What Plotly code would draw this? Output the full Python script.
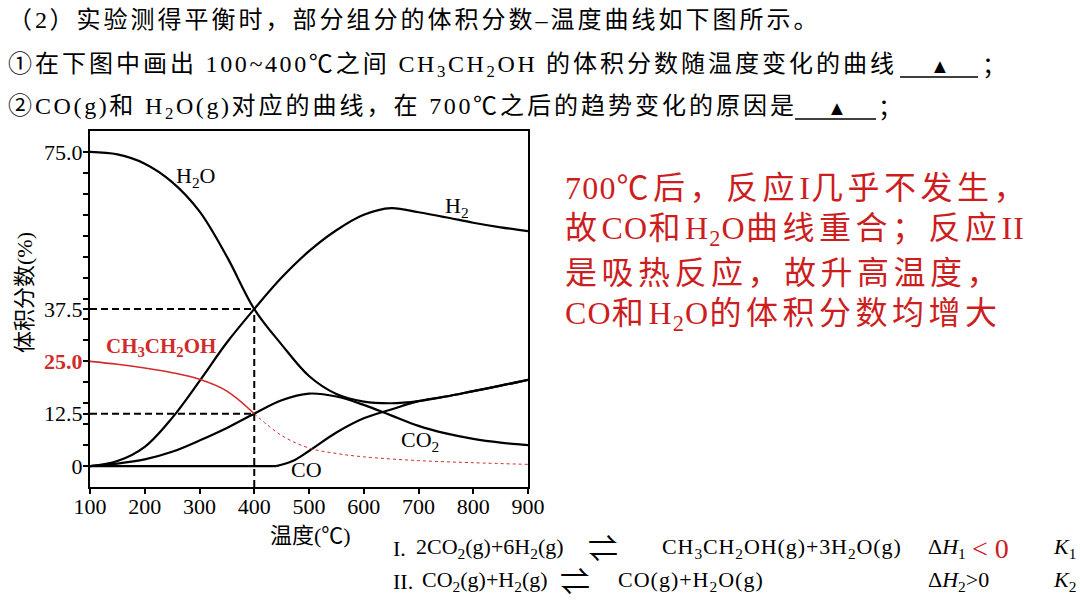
import re
import plotly.graph_objects as go

# ---------------- data ----------------
temps = [100, 150, 200, 250, 300, 350, 400, 450, 500, 550, 600, 650, 700, 750, 800, 850, 900]
h2o = [75.0, 74.4, 72.2, 67.8, 60.8, 50.0, 37.5, 29.0, 21.5, 17.2, 15.4, 15.0, 15.5, 16.6, 17.9, 19.2, 20.6]
h2 = [0.0, 1.2, 4.6, 11.5, 20.3, 29.5, 37.5, 45.0, 51.3, 56.3, 60.0, 61.6, 60.6, 59.4, 58.1, 57.0, 56.1]
co2 = [0.0, 0.6, 1.6, 3.4, 6.1, 9.1, 12.5, 15.7, 17.3, 16.6, 14.6, 12.1, 9.6, 7.8, 6.5, 5.6, 5.0]

co_temps = [100, 200, 300, 400, 440, 470, 500, 550, 600, 650, 700, 750, 800, 850, 900]
co = [0.0, 0.0, 0.0, 0.0, 0.0, 1.2, 3.6, 8.0, 11.4, 13.5, 15.5, 16.6, 17.9, 19.2, 20.6]
co_flat_n = 5  # CO stays at 0 up to 440 ℃

etoh_temps = [100, 150, 200, 250, 300, 350, 400]
etoh = [25.0, 24.3, 23.4, 22.3, 20.7, 17.9, 12.5]
etoh_ext_temps = [400, 450, 500, 550, 600, 700, 800, 900]
etoh_ext = [12.5, 7.3, 4.3, 3.0, 2.2, 1.3, 0.8, 0.4]

ref_T = 400
ref_levels = [37.5, 12.5]

x_ticks = [100, 200, 300, 400, 500, 600, 700, 800, 900]
y_label_vals = [0, 12.5, 25, 37.5, 75]
y_label_text = ["0", "12.5", "<span style='color:#d22b2b'><b>25.0</b></span>", "37.5", "75.0"]
y_minor = [5, 10, 15, 20, 30, 35, 40, 45, 50, 55, 60, 65, 70]

RED = "#d22b2b"
SERIF = "Liberation Serif, Noto Sans CJK SC"

# plot area in pixels (layout only)
L, R, T, B = 90, 528, 131, 487
W, H = 1080, 608


def P(xp, yp):
    return (xp - L) / (R - L), (B - yp) / (B - T)


fig = go.Figure()
blk = dict(color="black", width=2.2)
fig.add_trace(go.Scatter(x=temps, y=h2o, mode="lines", line=dict(shape="spline", **blk)))
fig.add_trace(go.Scatter(x=temps, y=h2, mode="lines", line=dict(shape="spline", **blk)))
fig.add_trace(go.Scatter(x=temps, y=co2, mode="lines", line=dict(shape="spline", **blk)))
fig.add_trace(go.Scatter(x=co_temps[:co_flat_n], y=co[:co_flat_n], mode="lines", line=dict(shape="linear", **blk)))
fig.add_trace(go.Scatter(x=co_temps[co_flat_n - 1:], y=co[co_flat_n - 1:], mode="lines",
                         line=dict(shape="spline", **blk)))
fig.add_trace(go.Scatter(x=etoh_temps, y=etoh, mode="lines", line=dict(shape="spline", color=RED, width=1.6)))
fig.add_trace(go.Scatter(x=etoh_ext_temps, y=etoh_ext, mode="lines",
                         line=dict(shape="spline", color=RED, width=1, dash="3px,3px")))
# dashed reference lines
dash = dict(color="black", width=2, dash="7px,4px")
for lv in ref_levels:
    fig.add_trace(go.Scatter(x=[100, ref_T], y=[lv, lv], mode="lines", line=dash))
fig.add_trace(go.Scatter(x=[ref_T, ref_T], y=[-5, ref_levels[0]], mode="lines", line=dash))

fig.update_layout(
    width=W, height=H, showlegend=False,
    margin=dict(l=L, r=W - R, t=T, b=H - B, pad=0),
    paper_bgcolor="white", plot_bgcolor="white",
    font=dict(family=SERIF, color="black"),
)
fig.update_xaxes(range=[100, 900], tickvals=x_ticks, ticktext=[str(v) for v in x_ticks],
                 ticks="outside", ticklen=5, tickwidth=1.5, tickcolor="black", ticklabelstandoff=-6,
                 showline=True, linewidth=2, linecolor="black", mirror=True,
                 showgrid=False, zeroline=False, tickfont=dict(family=SERIF, size=22, color="black"))
fig.update_yaxes(range=[-5, 80], tickvals=y_label_vals, ticktext=y_label_text,
                 ticks="outside", ticklen=5, tickwidth=1.5, tickcolor="black", ticklabelstandoff=-4,
                 minor=dict(tickvals=y_minor, ticks="outside", ticklen=5, tickwidth=1.5, tickcolor="black"),
                 showline=True, linewidth=2, linecolor="black", mirror=True,
                 showgrid=False, zeroline=False, tickfont=dict(family=SERIF, size=22, color="black"))

# curve labels (data coordinates)
curve_labels = [
    ("H<sub>2</sub>O", 293, 69.0, "black", 22),
    ("H<sub>2</sub>", 770, 61.8, "black", 22),
    ("<b>CH<sub>3</sub>CH<sub>2</sub>OH</b>", 230, 28.4, RED, 21),
    ("CO<sub>2</sub>", 702, 6.0, "black", 22),
    ("CO", 496, -0.8, "black", 22),
]
for txt, x, y, c, s in curve_labels:
    fig.add_annotation(x=x, y=y, text=txt, showarrow=False, font=dict(family=SERIF, size=s, color=c))


def spaced(s, cjk_ls, latin_ls):
    """wrap runs of CJK / Latin characters in letter-spacing spans (tags left untouched)"""
    out = []
    for tok in re.split(r"(<[^>]+>|&[a-z]+;)", s):
        if not tok:
            continue
        if tok.startswith("<") or tok.startswith("&"):
            out.append(tok)
            continue
        for run in re.findall(r"[\u2000-\uffff]+|[^\u2000-\uffff]+", tok):
            ls = cjk_ls if ord(run[0]) >= 0x2000 else latin_ls
            out.append(f"<span style='letter-spacing:{ls}px'>{run}</span>" if ls else run)
    return "".join(out)


def text(xp, yp, s, size=23, color="black", anchor="left", angle=0, ls=None):
    x, y = P(xp, yp)
    if ls:
        s = spaced(s, *ls)
    fig.add_annotation(x=x, y=y, xref="paper", yref="paper", text=s, showarrow=False, textangle=angle,
                       xanchor=anchor, yanchor="middle", font=dict(family=SERIF, size=size, color=color))


def hline(x0, x1, yp):
    a, b = P(x0, yp)
    c, _ = P(x1, yp)
    fig.add_shape(type="line", xref="paper", yref="paper", x0=a, x1=c, y0=b, y1=b,
                  line=dict(color="black", width=1.5))


# axis titles
text(310, 535, "温度(℃)", 22, anchor="center")
text(24, 293, "体积分数(%)", 22, anchor="center", angle=-90)

# question text
Q = (3.0, 2.6)
text(6, 20, "（2）实验测得平衡时，部分组分的体积分数–温度曲线如下图所示。", 24, ls=Q)
text(6, 66, "①在下图中画出 100~400℃之间 CH<sub>3</sub>CH<sub>2</sub>OH 的体积分数随温度变化的曲线", 24, ls=Q)
hline(900, 978, 77)
text(940, 66, "▲", 20, anchor="center")
text(980, 66, "；", 24)
text(6, 108, "②CO(g)和 H<sub>2</sub>O(g)对应的曲线，在 700℃之后的趋势变化的原因是", 24, ls=Q)
hline(795, 876, 119)
text(837, 108, "▲", 20, anchor="center")
text(876, 108, "；", 24)

# answer text (red)
answer = [
    "700℃后，反应I几乎不发生，",
    "故CO和H<sub>2</sub>O曲线重合；反应II",
    "是吸热反应，故升高温度，",
    "CO和H<sub>2</sub>O的体积分数均增大",
]
for i, s in enumerate(answer):
    text(563, 188 + i * 42.5, s, 32, color="#cc1e1e", ls=(4.5, 1.2))

# reactions
EQ = 22
text(391, 548, "I.", EQ)
text(414, 548, "2CO<sub>2</sub>(g)+6H<sub>2</sub>(g)", EQ)
text(603, 548, "⇌", 30, anchor="center")
text(660, 548, "CH<sub>3</sub>CH<sub>2</sub>OH(g)+3H<sub>2</sub>O(g)", EQ, ls=(0, 0.9))
text(926, 548, "Δ<i>H</i><sub>1</sub>", EQ)
text(970, 548, "&lt; 0", 28, color="#cc1e1e")
text(1051, 548, "<i>K</i><sub>1</sub>", EQ)
text(391, 581, "II.", EQ)
text(420, 581, "CO<sub>2</sub>(g)+H<sub>2</sub>(g)", EQ)
text(575, 581, "⇌", 30, anchor="center")
text(616, 581, "CO(g)+H<sub>2</sub>O(g)", EQ, ls=(0, 1.0))
text(926, 581, "Δ<i>H</i><sub>2</sub>&gt;0", EQ)
text(1051, 581, "<i>K</i><sub>2</sub>", EQ)

fig.write_html("out.html", config={"displayModeBar": False},
               post_script="document.body.style.margin='0';document.body.style.overflow='hidden';")
